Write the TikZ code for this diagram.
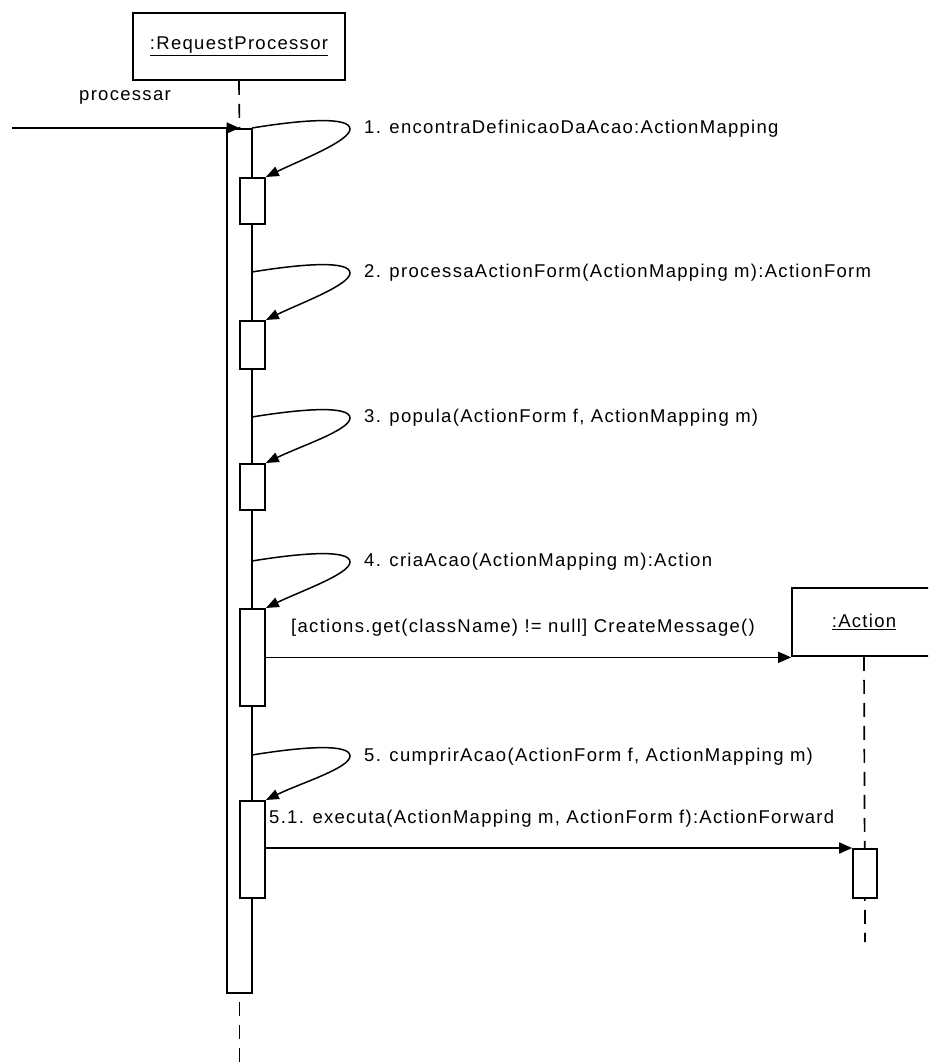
\documentclass[tikz,border=0pt]{standalone}
\usepackage{fontspec}
\setmainfont{Liberation Sans}[LetterSpace=7]
\usetikzlibrary{arrows.meta}
\begin{document}
\begin{tikzpicture}[x=1pt,y=-1pt,
  lbl/.style={font=\fontsize{18.5}{22}\selectfont, inner sep=0pt, anchor=west},
  obj/.style={draw, line width=1.7pt, fill=white, font=\fontsize{18.5}{22}\selectfont},
  actbox/.style={draw, line width=1.7pt, fill=white, minimum width=25pt, inner sep=0pt, anchor=north},
  life/.style={line width=1.7pt, dash pattern=on 14pt off 9pt},
  msg/.style={line width=1.6pt, -{Triangle[length=13pt,width=11pt]}},
  selfmsg/.style={line width=1.5pt, -{Triangle[length=13pt,width=10pt]}}
]
\useasboundingbox (0,0) rectangle (928,1064);
\clip (0,0) rectangle (928,1064);

% objects
\node[obj, minimum width=212pt, minimum height=67pt] (rp) at (239,46.5) {\underline{:RequestProcessor}};
\node[obj, minimum width=144pt, minimum height=68pt] (act) at (864,622) {\underline{:Action}};

% end points of the lifelines and of the incoming call
\coordinate (rpend) at (239.5,1064);
\coordinate (actend) at (865,942);
\coordinate (caller) at (12,128);

% lifelines
\draw[life] (rp.south) -- (239.5,128) coordinate (rptop);
\draw[life] (rptop) -- (rpend);
\draw[life] (act.south) -- (actend);

% main activation of the request processor
\node[actbox, minimum height=864pt] (bar) at (239.5,128) {};

% nested activations
\node[actbox, minimum height=46pt] (a1) at (252.5,177) {};
\node[actbox, minimum height=48pt] (a2) at (252.5,320) {};
\node[actbox, minimum height=46pt] (a3) at (252.5,463) {};
\node[actbox, minimum height=97pt] (a4) at (252.5,608) {};
\node[actbox, minimum height=97pt] (a5) at (252.5,800) {};
\node[actbox, minimum width=24pt, minimum height=49pt] (b1) at (865,848) {};

% incoming call
\draw[msg] (caller) -- (bar.north);
\node[lbl, anchor=center] (lproc) at (125,97) {processar};

% self calls
\coordinate (s1) at (252,128); \coordinate (m1) at (350,129);
\coordinate (s2) at (252,272); \coordinate (m2) at (350,273);
\coordinate (s3) at (252,417); \coordinate (m3) at (350,418);
\coordinate (s4) at (252,561); \coordinate (m4) at (350,562);
\coordinate (s5) at (252,755); \coordinate (m5) at (350,756);
\foreach \i in {1,...,5}{
  \draw[selfmsg] (s\i) .. controls +(55,-9) and +(0,-12) .. (m\i)
                 .. controls +(0,12) and +(35,-17) .. (a\i.north east);
}
\node[lbl] (l1) at (364,129) {1. encontraDefinicaoDaAcao:ActionMapping};
\node[lbl] (l2) at (364,273) {2. processaActionForm(ActionMapping m):ActionForm};
\node[lbl] (l3) at (364,418) {3. popula(ActionForm f, ActionMapping m)};
\node[lbl] (l4) at (364,562) {4. criaAcao(ActionMapping m):Action};
\node[lbl] (l5) at (364,757) {5. cumprirAcao(ActionForm f, ActionMapping m)};

% creation of the action
\draw[msg] (a4.east) -- (a4.east -| act.south west);
\node[lbl] (lc) at (291,628) {[actions.get(className) != null] CreateMessage()};

% execution of the action
\draw[msg] (a5.east |- b1.north west) -- (b1.north west);
\node[lbl] (lx) at (269,819) {5.1. executa(ActionMapping m, ActionForm f):ActionForward};
\end{tikzpicture}
\end{document}
